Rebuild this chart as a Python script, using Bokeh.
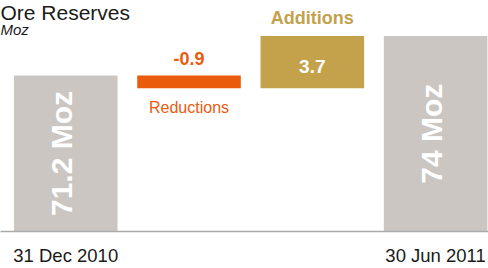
import math
from bokeh.plotting import figure
from bokeh.models import ColumnDataSource, Range1d, FixedTicker, Label
from bokeh.embed import file_html
from bokeh.resources import INLINE
from bokeh.core.properties import value

# ---- data ----
categories = ["31 Dec 2010", "Reductions", "Additions", "30 Jun 2011"]
start_value = 71.2
reduction = -0.9
addition = 3.7
end_value = 74.0
total_labels = ["71.2 Moz", "74 Moz"]
change_labels = ["-0.9", "3.7"]
axis_min = 60.14
axis_max = 76.52

# ---- derived ----
after_red = start_value + reduction
GREY = "#CBC6C2"
ORANGE = "#EA5B0C"
GOLD = "#C4A24C"
FONT = "Liberation Sans"

p = figure(width=488, height=268, output_backend="svg", toolbar_location=None,
           x_range=Range1d(-0.529, 3.429), y_range=Range1d(axis_min, axis_max),
           min_border_left=0, min_border_right=0, min_border_top=0, min_border_bottom=34)
p.outline_line_color = None
p.xgrid.visible = False
p.ygrid.visible = False
p.yaxis.visible = False
p.background_fill_color = "white"
p.border_fill_color = "white"

totals = ColumnDataSource(dict(
    x=[0, 3],
    top=[start_value, end_value],
    bottom=[axis_min, axis_min],
    mid=[(axis_min + start_value) / 2, (axis_min + end_value) / 2],
    label=total_labels,
))
p.vbar(x="x", top="top", bottom="bottom", width=0.84, source=totals,
       fill_color=GREY, line_color=None)
p.text(x="x", y="mid", text="label", source=totals, angle=math.pi / 2,
       x_offset=-4, text_align="center", text_baseline="middle", text_color="white",
       text_font=value(FONT), text_font_style="bold", text_font_size="30px")

# reduction bar
red = ColumnDataSource(dict(x=[1], top=[start_value], bottom=[after_red],
                            val=[change_labels[0]], name=[categories[1]]))
p.vbar(x="x", top="top", bottom="bottom", width=0.84, source=red,
       fill_color=ORANGE, line_color=None)
p.text(x="x", y="top", text="val", source=red, y_offset=-17,
       text_align="center", text_baseline="alphabetic", text_color=ORANGE,
       text_font=value(FONT), text_font_style="bold", text_font_size="18px")
p.text(x="x", y="bottom", text="name", source=red, y_offset=19,
       text_align="center", text_baseline="alphabetic", text_color=ORANGE,
       text_font=value(FONT), text_font_size="16px")

# addition bar
add = ColumnDataSource(dict(x=[2], top=[after_red + addition], bottom=[after_red],
                            mid=[after_red + addition / 2],
                            val=[change_labels[1]], name=[categories[2]]))
p.vbar(x="x", top="top", bottom="bottom", width=0.84, source=add,
       fill_color=GOLD, line_color=None)
p.text(x="x", y="top", text="name", source=add, y_offset=-18.5,
       text_align="center", text_baseline="alphabetic", text_color=GOLD,
       text_font=value(FONT), text_font_style="bold", text_font_size="18px")
p.text(x="x", y="mid", text="val", source=add, y_offset=4,
       text_align="center", text_baseline="alphabetic", text_color="white",
       text_font=value(FONT), text_font_style="bold", text_font_size="19px")

# x axis
p.xaxis.ticker = FixedTicker(ticks=[0, 3])
p.xaxis.major_label_overrides = {0: categories[0], 3: categories[3]}
p.xaxis.major_tick_line_color = None
p.xaxis.minor_tick_line_color = None
p.xaxis.major_tick_out = 0
p.xaxis.major_label_standoff = 13
p.xaxis.axis_line_color = "#AAAAAA"
p.xaxis.axis_line_width = 1.5
p.xaxis.major_label_text_font = FONT
p.xaxis.major_label_text_font_size = "18.5px"
p.xaxis.major_label_text_color = "#1A1A1A"

# titles
p.add_layout(Label(x=0, y=219, x_units="screen", y_units="screen",
                   text="Ore Reserves", text_font=FONT, text_font_size="21px",
                   text_color="#1A1A1A", text_baseline="alphabetic"))
p.add_layout(Label(x=0, y=202, x_units="screen", y_units="screen",
                   text="Moz", text_font=FONT, text_font_size="15px",
                   text_font_style="italic", text_color="#1A1A1A",
                   text_baseline="alphabetic"))

open("out.html", "w").write(file_html(p, INLINE))
